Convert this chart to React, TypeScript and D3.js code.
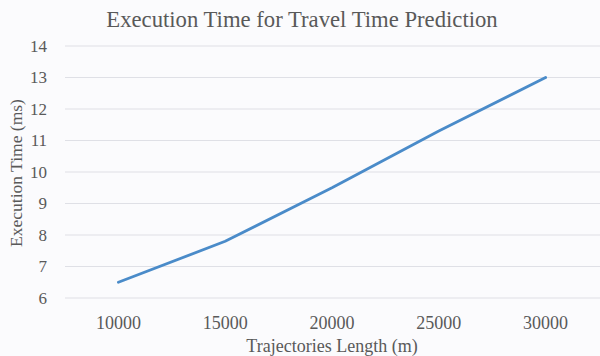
import React from "react";
import * as d3 from "d3";

const categories = ["10000", "15000", "20000", "25000", "30000"];
const values = [6.5, 7.8, 9.5, 11.3, 13.0];
const yTicks = [6, 7, 8, 9, 10, 11, 12, 13, 14];

const W = 600;
const H = 356;
const FONT = "Liberation Serif";

export default function App() {
  const left = 65;
  const right = 599;
  const top = 46;
  const bottom = 298;
  const x = d3.scaleBand<string>().domain(categories).range([left, right]);
  const y = d3.scaleLinear().domain([6, 14]).range([bottom, top]);
  const line = d3
    .line<number>()
    .x((_, i) => (x(categories[i]) as number) + x.bandwidth() / 2)
    .y((d) => y(d));
  const txt = { fontFamily: FONT, fill: "#595959" } as React.CSSProperties;
  return (
    <svg
      width={W}
      height={H}
      style={{ position: "absolute", left: 0, top: 0, background: "#fbfbfd" }}
    >
      <rect x={0} y={0} width={W} height={H} fill="#fbfbfd" />
      <text x={302} y={27} textAnchor="middle" fontSize={22.7} style={txt}>
        Execution Time for Travel Time Prediction
      </text>
      {yTicks.map((t) => (
        <g key={t}>
          <line x1={left} x2={W} y1={y(t)} y2={y(t)} stroke="#dfe0e6" strokeWidth={1.2} />
          <text x={47} y={y(t)} dy="0.35em" textAnchor="end" fontSize={17} style={txt}>
            {t}
          </text>
        </g>
      ))}
      {categories.map((c) => (
        <text
          key={c}
          x={(x(c) as number) + x.bandwidth() / 2}
          y={329}
          textAnchor="middle"
          fontSize={18}
          style={txt}
        >
          {c}
        </text>
      ))}
      <path d={line(values) || ""} fill="none" stroke="#4a8bc9" strokeWidth={2.8} strokeLinejoin="round" strokeLinecap="round" />
      <text x={332} y={352} textAnchor="middle" fontSize={18} style={txt}>
        Trajectories Length (m)
      </text>
      <text
        transform={`translate(22,173) rotate(-90)`}
        textAnchor="middle"
        fontSize={17.5}
        style={txt}
      >
        Execution Time (ms)
      </text>
    </svg>
  );
}
